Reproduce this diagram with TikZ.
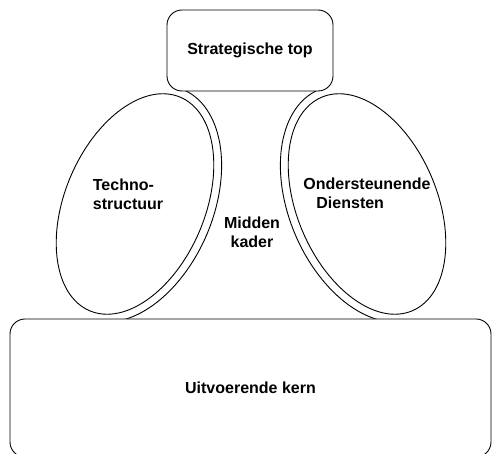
\documentclass[tikz,border=0pt]{standalone}
\usepackage{fontspec}
\setmainfont{Liberation Sans}
\begin{document}
\begin{tikzpicture}[x=1pt,y=1pt,line width=0.9pt,
  lbl/.style={font=\fontsize{16}{19}\selectfont\bfseries,inner sep=0pt,align=center},
  box/.style={draw,rounded corners=15pt,fill=white}]
\useasboundingbox (0,0) rectangle (492,454);
\foreach \s in {1,-1}{
  \begin{scope}[xshift=251pt,xscale=\s]
    \begin{scope}[shift={(-116,250)},rotate=67]
      \draw (0,0) ellipse[x radius=116pt,y radius=70pt];
    \end{scope}
    \begin{scope}
      \clip (-251,135) rectangle (49,363);
      \begin{scope}[shift={(-116,250)},rotate=67]
        \draw (14.7:124pt and 78pt) arc[start angle=14.7,end angle=-165.3,x radius=124pt,y radius=78pt];
      \end{scope}
    \end{scope}
  \end{scope}
}
\node[box,lbl,minimum width=166pt,minimum height=81pt] (top) at (250,403.5) {Strategische top};
\node[box,lbl,minimum width=481pt,minimum height=138pt] (core) at (250.5,66) {Uitvoerende kern};
\node[lbl,align=left] (tech) at (128,260) {Techno-\\structuur};
\node[lbl,align=left] (supp) at (367,261) {Ondersteunende\\\hspace*{13pt}Diensten};
\node[lbl] (mid) at (252,222) {Midden\\kader};
\end{tikzpicture}
\end{document}
